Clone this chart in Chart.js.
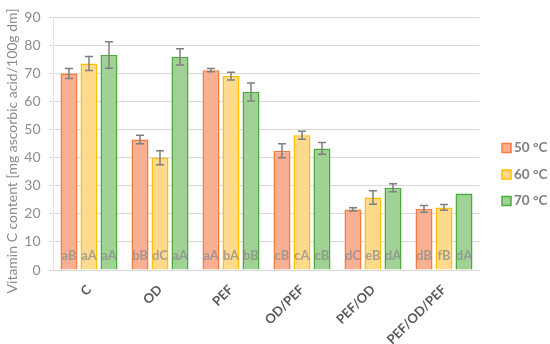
<!DOCTYPE html>
<html>
<head>
<meta charset="utf-8">
<script src="https://cdn.jsdelivr.net/npm/chart.js@4.4.1/dist/chart.umd.min.js"></script>
<style>
  html, body { margin: 0; padding: 0; background: #fff; }
  #wrap { width: 550px; height: 344px; position: relative; }
</style>
</head>
<body>
<div id="wrap"><canvas id="vitc"></canvas></div>
<script>
const categories = ['C', 'OD', 'PEF', 'OD/PEF', 'PEF/OD', 'PEF/OD/PEF'];

const temp50 = [70.0, 46.5, 71.2, 42.5, 21.6, 21.8];
const temp60 = [73.6, 40.0, 69.1, 48.0, 25.8, 22.3];
const temp70 = [76.6, 75.9, 63.4, 43.3, 29.3, 27.3];

const err50 = [1.8, 1.5, 0.6, 2.5, 0.6, 1.2];
const err60 = [2.5, 2.5, 1.4, 1.4, 2.4, 1.0];
const err70 = [4.7, 2.9, 3.2, 2.1, 1.4, 0];

const letters50 = ['aB', 'bB', 'aA', 'cB', 'dC', 'dB'];
const letters60 = ['aA', 'dC', 'bA', 'cA', 'eB', 'fB'];
const letters70 = ['aA', 'aA', 'bB', 'cB', 'dA', 'dA'];

const yTicks = [0, 10, 20, 30, 40, 50, 60, 70, 80, 90];
const yTitle = 'Vitamin C content [mg ascorbic acid/100g dm]';

// error bars, letters inside the bars, y title and the legend on the right
const extrasPlugin = {
  id: 'extras',
  afterDatasetsDraw(chart) {
    const ctx = chart.ctx;
    const y = chart.scales.y;
    chart.data.datasets.forEach((ds, i) => {
      const meta = chart.getDatasetMeta(i);
      meta.data.forEach((bar, j) => {
        ctx.save();
        ctx.font = 'bold 13px Lato';
        ctx.fillStyle = 'rgba(140,140,140,0.75)';
        ctx.textAlign = 'center';
        ctx.textBaseline = 'middle';
        ctx.fillText(ds.letters[j], bar.x, y.getPixelForValue(4.9));
        ctx.restore();

        const e = ds.errors[j];
        if (!e) return;
        const top = y.getPixelForValue(ds.data[j] + e);
        const bot = y.getPixelForValue(ds.data[j] - e);
        ctx.save();
        ctx.strokeStyle = '#7f7f7f';
        ctx.lineWidth = 1.5;
        ctx.beginPath();
        ctx.moveTo(bar.x, top); ctx.lineTo(bar.x, bot);
        ctx.moveTo(bar.x - 4, top); ctx.lineTo(bar.x + 4, top);
        ctx.moveTo(bar.x - 4, bot); ctx.lineTo(bar.x + 4, bot);
        ctx.stroke();
        ctx.restore();
      });
    });
  },
  afterDraw(chart) {
    const ctx = chart.ctx;
    // y axis title
    ctx.save();
    ctx.translate(12, 151);
    ctx.rotate(-Math.PI / 2);
    ctx.font = '14px Lato';
    ctx.fillStyle = '#8c8c8c';
    ctx.textAlign = 'center';
    ctx.textBaseline = 'middle';
    ctx.fillText(yTitle, 0, 0);
    ctx.restore();

    chart.data.datasets.forEach((ds, i) => {
      const cy = 148 + i * 26.5;
      ctx.save();
      ctx.fillStyle = ds.backgroundColor;
      ctx.strokeStyle = ds.borderColor;
      ctx.lineWidth = 1.5;
      ctx.fillRect(502, cy - 4.5, 9, 9);
      ctx.strokeRect(502, cy - 4.5, 9, 9);
      ctx.fillStyle = '#7f7f7f';
      ctx.font = 'bold 13.5px Lato';
      ctx.textBaseline = 'middle';
      ctx.fillText(ds.label, 514, cy);
      ctx.restore();
    });
  }
};

const ctx = document.getElementById('vitc').getContext('2d');

const datasets = [];
datasets.push({
  label: '50 °C',
  data: temp50,
  errors: err50,
  letters: letters50,
  backgroundColor: '#f9b092',
  borderColor: '#f47c3c',
  borderWidth: 1.5
});
datasets.push({
  label: '60 °C',
  data: temp60,
  errors: err60,
  letters: letters60,
  backgroundColor: '#ffd98c',
  borderColor: '#ffc000',
  borderWidth: 1.5
});
datasets.push({
  label: '70 °C',
  data: temp70,
  errors: err70,
  letters: letters70,
  backgroundColor: '#a0d195',
  borderColor: '#4aab3c',
  borderWidth: 1.5
});

window.vitcChart = new Chart(ctx, {
  type: 'bar',
  data: {
    labels: categories,
    datasets: datasets
  },
  plugins: [extrasPlugin],
  options: {
    responsive: true,
    maintainAspectRatio: false,
    animation: false,
    datasets: {
      bar: {
        categoryPercentage: 0.845,
        barPercentage: 0.85
      }
    },
    layout: {
      padding: { top: 6, right: 70.5, left: 0, bottom: 0 }
    },
    plugins: {
      legend: { display: false },
      tooltip: { enabled: false }
    },
    scales: {
      x: {
        afterFit: (s) => { s.height = 74; },
        grid: { display: false },
        border: { display: true, color: '#d9d9d9' },
        ticks: {
          color: '#595959',
          font: { family: 'Lato', size: 13, weight: 'bold' },
          minRotation: 45,
          maxRotation: 45,
          padding: 4
        }
      },
      y: {
        min: 0,
        max: 90,
        afterBuildTicks: (axis) => { axis.ticks = yTicks.map(v => ({ value: v })); },
        afterFit: (s) => { s.width = 53.5; },
        grid: { color: '#d9d9d9', lineWidth: 1, tickLength: 4 },
        border: { display: true, color: '#e3e3e3' },
        ticks: {
          color: '#8c8c8c',
          font: { family: 'Lato', size: 14 },
          padding: 9
        }
      }
    }
  }
});
</script>
</body>
</html>
